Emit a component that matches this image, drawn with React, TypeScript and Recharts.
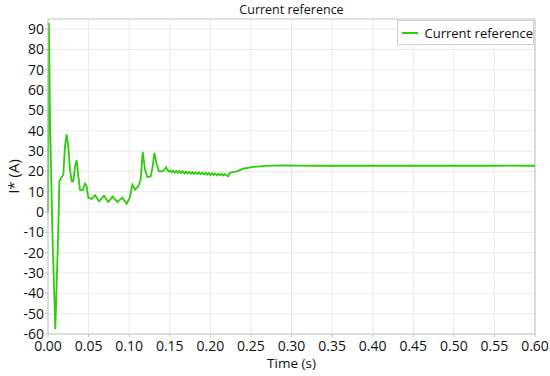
import React from "react";
import {
  LineChart,
  Line,
  XAxis,
  YAxis,
  CartesianGrid,
  ReferenceLine,
  Label,
} from "recharts";

// time (s) and current reference (A)
const time = [
  0, 0.0012, 0.0025, 0.0053, 0.009, 0.0127, 0.014, 0.016, 0.0189, 0.0209,
  0.023, 0.025, 0.0271, 0.0292, 0.0312, 0.0333, 0.0353, 0.0374, 0.0394, 0.0427,
  0.0456, 0.0476, 0.0497, 0.0538, 0.058, 0.0628, 0.069, 0.0743, 0.0797, 0.0854,
  0.0915, 0.097, 0.101, 0.1039, 0.1072, 0.1112, 0.1142, 0.1167, 0.1195, 0.1223,
  0.1265, 0.129, 0.131, 0.1339, 0.1367, 0.14, 0.1429, 0.1453, 0.1482,
  0.15, 0.152, 0.154, 0.156, 0.158, 0.16, 0.162, 0.164, 0.166, 0.168,
  0.17, 0.172, 0.174, 0.176, 0.178, 0.18, 0.182, 0.184, 0.186, 0.188,
  0.19, 0.192, 0.194, 0.196, 0.198, 0.2, 0.202, 0.204, 0.206, 0.208,
  0.21, 0.212, 0.214, 0.216, 0.218, 0.22,
  0.222, 0.2238, 0.2325, 0.2406, 0.2529, 0.2735, 0.29, 0.31, 0.33, 0.35,
  0.37, 0.39, 0.41, 0.43, 0.45, 0.47, 0.49, 0.51, 0.53, 0.55, 0.57, 0.59, 0.6,
];

const current = [
  0, 93, 45.5, -8.6, -57.7, -8.6, 15.1, 16.8, 18.4, 32.4,
  38.2, 32, 20.9, 15.1, 15.1, 22.5, 25.5, 17.6, 11, 10.7,
  14, 12.7, 7, 6.5, 8.3, 5.3, 8, 5, 7.6, 5,
  7, 4.1, 7.4, 13.5, 11, 12.7, 16, 29.6, 21, 17.3,
  17.5, 22.5, 29.1, 23.4, 20, 20, 20.5, 22, 20,
  20.5, 19.5, 20.4, 19.4, 20.3, 19.3, 20.2, 19.2, 20.1, 19.1,
  19.9, 19.0, 19.8, 18.9, 19.7, 18.8, 19.6, 18.7, 19.5, 18.6,
  19.4, 18.5, 19.3, 18.4, 19.2, 18.3, 19.1, 18.2, 19.0, 18.1,
  18.9, 18.1, 18.8, 18.0, 18.7, 18.0,
  17.6, 19.3, 20, 21.4, 22.2, 22.9, 23, 22.9, 22.8, 22.9,
  22.8, 22.9, 22.8, 22.8, 22.9, 22.8, 22.8, 22.9, 22.8, 22.8, 22.9, 22.8, 22.8,
];

const xTicks = [0, 0.05, 0.1, 0.15, 0.2, 0.25, 0.3, 0.35, 0.4, 0.45, 0.5, 0.55, 0.6];
const yTicks = [-60, -50, -40, -30, -20, -10, 0, 10, 20, 30, 40, 50, 60, 70, 80, 90];

const data = time.map((t, i) => ({ t, current: current[i] }));

const FONT = "'Open Sans', 'DejaVu Sans', sans-serif";
const GREEN = "#2ecc0a";

export default function App() {
  return (
    <div style={{ position: "absolute", left: 0, top: 0, width: 550, height: 376, background: "#fff" }}>
      <div
        style={{
          position: "absolute",
          top: 1,
          left: 48,
          width: 487,
          textAlign: "center",
          fontFamily: FONT,
          fontSize: 12.5,
          color: "#111",
        }}
      >
        Current reference
      </div>
      <LineChart width={550} height={376} data={data} margin={{ top: 19, right: 15, bottom: 0, left: 0 }}>
        <CartesianGrid stroke="#e9e9e9" horizontalValues={yTicks} verticalValues={xTicks} />
        <XAxis
          dataKey="t"
          type="number"
          domain={[0, 0.6]}
          ticks={xTicks}
          interval={0}
          tickFormatter={(v: number) => v.toFixed(2)}
          height={42}
          stroke="#c4c4c4"
          tickSize={3}
          tickMargin={4}
          tick={{ fill: "#111", fontSize: 14, fontFamily: FONT }}
        >
          <Label
            content={({ viewBox }: any) => (
              <text
                x={viewBox.x + viewBox.width / 2}
                y={viewBox.y + 34}
                textAnchor="middle"
                fontFamily={FONT}
                fontSize={13.5}
                fill="#111"
              >
                Time (s)
              </text>
            )}
          />
        </XAxis>
        <YAxis
          type="number"
          domain={[-60, 95]}
          ticks={yTicks}
          interval={0}
          allowDataOverflow
          width={48}
          stroke="#c4c4c4"
          tickSize={3}
          tickMargin={1}
          tick={{ fill: "#111", fontSize: 14, fontFamily: FONT }}
        >
          <Label
            content={({ viewBox }: any) => {
              const cx = viewBox.x + 13;
              const cy = viewBox.y + viewBox.height / 2;
              return (
                <text
                  transform={`translate(${cx},${cy}) rotate(-90)`}
                  textAnchor="middle"
                  dominantBaseline="central"
                  fontFamily={FONT}
                  fontSize={15}
                  fill="#111"
                >
                  I* (A)
                </text>
              );
            }}
          />
        </YAxis>
        <ReferenceLine y={95} stroke="#c4c4c4" />
        <ReferenceLine x={0.6} stroke="#c4c4c4" />
        <Line
          type="linear"
          dataKey="current"
          stroke={GREEN}
          strokeWidth={1.8}
          dot={false}
          isAnimationActive={false}
        />
      </LineChart>
      <div
        style={{
          position: "absolute",
          top: 20,
          left: 397,
          width: 137,
          height: 25,
          border: "1px solid #cfcfcf",
          background: "#fff",
          display: "flex",
          alignItems: "center",
          whiteSpace: "nowrap",
          fontFamily: FONT,
          fontSize: 13,
          color: "#111",
          boxSizing: "border-box",
        }}
      >
        <span style={{ display: "inline-block", width: 16, height: 2, background: GREEN, margin: "0 7px 0 4px" }} />
        Current reference
      </div>
    </div>
  );
}
